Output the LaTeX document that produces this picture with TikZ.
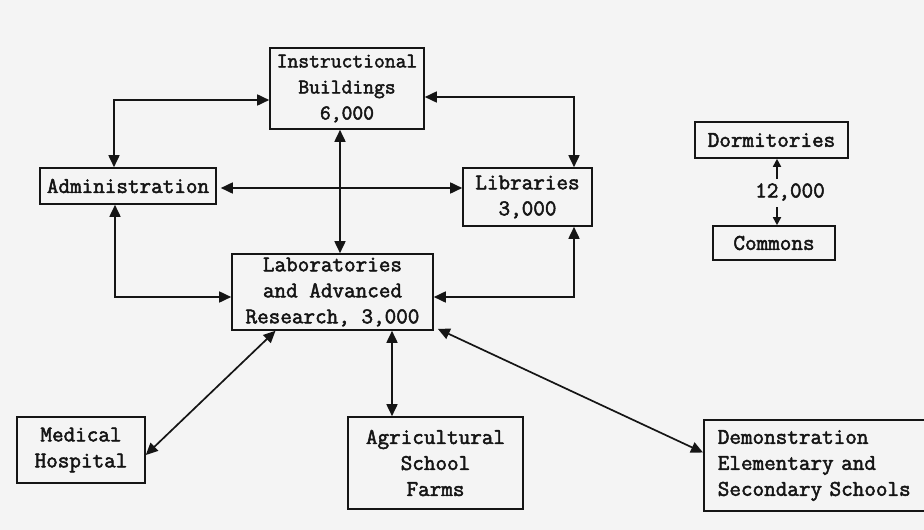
\documentclass[tikz,border=0pt]{standalone}
\usepackage{fontspec}
\setmainfont{Latin Modern Mono}[FakeBold=2.2]
\usetikzlibrary{arrows.meta,calc}
\definecolor{paper}{HTML}{F4F4F4}
\definecolor{ink}{HTML}{151515}
\begin{document}
\begin{tikzpicture}[x=1pt,y=-1pt,
  box/.style={draw=ink,line width=1.6pt,inner sep=0pt,align=center,text=ink,
    font=\fontsize{22.5}{26}\selectfont},
  dbl/.style={draw=ink,line width=1.7pt,
    {Triangle[length=12pt,width=11pt]}-{Triangle[length=12pt,width=11pt]}},
  one/.style={draw=ink,line width=1.7pt,-{Triangle[length=8pt,width=8pt]}}]
\fill[paper] (0,0) rectangle (924,530);
\useasboundingbox (0,0) rectangle (924,530);

\node[box,minimum width=154pt,minimum height=81pt,
  font=\fontsize{21}{26}\selectfont] (instr) at (347,88.5) {Instructional\\Buildings\\6,000};
\node[box,minimum width=176pt,minimum height=36pt] (admin) at (128,186) {Administration};
\node[box,minimum width=129pt,minimum height=58pt] (lib) at (527.5,197) {Libraries\\3,000};
\node[box,minimum width=201pt,minimum height=76pt] (lab) at (332.5,292) {Laboratories\\and Advanced\\Research, 3,000};
\node[box,minimum width=153pt,minimum height=36pt] (dorm) at (771.5,140) {Dormitories};
\node[box,minimum width=122pt,minimum height=34pt] (comm) at (774,243) {Commons};
\node[text=ink,inner sep=0pt,font=\fontsize{22.5}{26}\selectfont] (num) at (790,192) {12,000};
\node[box,minimum width=128pt,minimum height=66pt] (med) at (81,450) {Medical\\Hospital};
\node[box,minimum width=175pt,minimum height=92pt] (agri) at (435.5,463) {Agricultural\\School\\Farms};
\node[box,anchor=west,align=left,text width=205pt,inner xsep=14pt,minimum height=91pt] (demo) at (703,465.5) {Demonstration\\Elementary and\\Secondary Schools};

% connectors
\draw[dbl] ([yshift=-11.5pt]instr.west) -| ([xshift=-14pt]admin.north);
\draw[dbl] ([yshift=-8.5pt]instr.east) -| ([xshift=46.5pt]lib.north);
\draw[dbl] ([xshift=4pt,yshift=-2pt]admin.east) -- ([yshift=-2pt]admin.east -| lib.west);
\draw[dbl] ([xshift=-7pt]instr.south) coordinate (a) -- (a |- lab.north);
\draw[dbl] ([xshift=-13pt]admin.south) |- ([yshift=-5pt]lab.west);
\draw[dbl] ([xshift=46.5pt]lib.south) |- ([yshift=-5pt]lab.east);
\draw[dbl] ([xshift=-57pt]lab.south) -- ([yshift=-5pt]med.east);
\draw[dbl] ([xshift=59.5pt]lab.south) coordinate (b) -- (b |- agri.north);
\draw[dbl] ([xshift=4pt,yshift=2pt]lab.south east) -- ([yshift=13pt]demo.west);

\coordinate (up) at (777,179);
\coordinate (dn) at (777,207);
\draw[one] (up) -- (up |- dorm.south);
\draw[one] (dn) -- (dn |- comm.north);
\end{tikzpicture}
\end{document}
